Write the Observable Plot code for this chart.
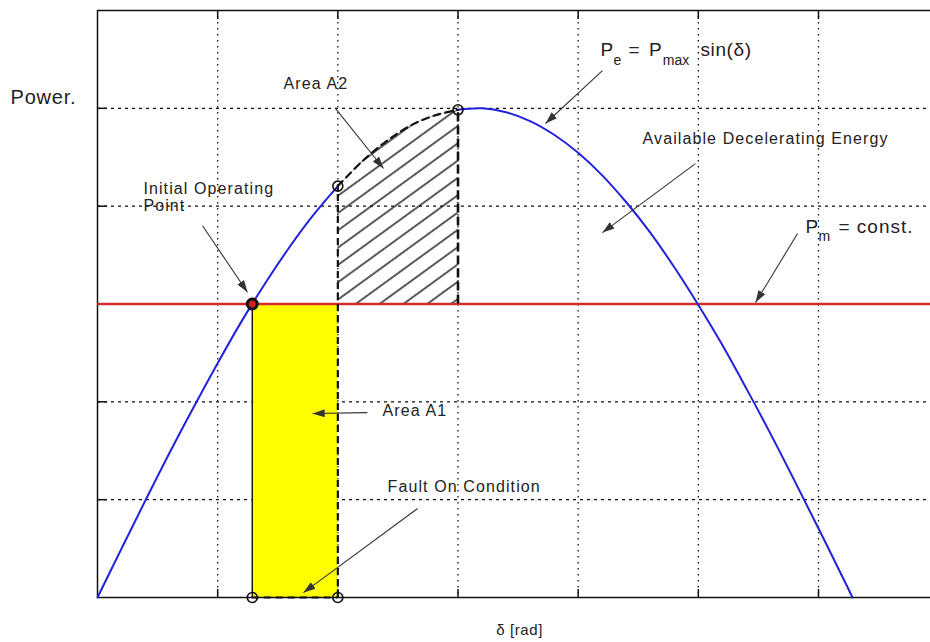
<!DOCTYPE html>
<html>
<head>
<meta charset="utf-8">
<script src="https://cdn.jsdelivr.net/npm/d3@7"></script>
<script src="https://cdn.jsdelivr.net/npm/@observablehq/plot@0.6"></script>
<style>
  html, body { margin: 0; padding: 0; background: #fff; }
  #chart svg { display: block; font-family: "Liberation Sans", Arial, sans-serif; }
</style>
</head>
<body>
<div id="chart"></div>
<script>
// ---- data ----
const delta = [0, 0.1, 0.2, 0.3, 0.4, 0.5, 0.6, 0.7, 0.8, 0.9, 1.0, 1.1, 1.2, 1.3, 1.4, 1.5,
  1.6, 1.7, 1.8, 1.9, 2.0, 2.1, 2.2, 2.3, 2.4, 2.5, 2.6, 2.7, 2.8, 2.9, 3.0, 3.1, 3.1416];
const pe = [0, 0.100, 0.199, 0.296, 0.389, 0.479, 0.565, 0.644, 0.717, 0.783, 0.841, 0.891, 0.932, 0.964, 0.985, 0.997,
  1.000, 0.992, 0.974, 0.946, 0.909, 0.863, 0.808, 0.746, 0.675, 0.598, 0.516, 0.427, 0.335, 0.239, 0.141, 0.042, 0];
const gridX = [0.5, 1.0, 1.5, 2.0, 2.5, 3.0];
const gridY = [0.2, 0.4, 0.6, 0.8, 1.0];
const xDomain = [0, 3.466];
const yDomain = [0, 1.2];
const Pm = 0.6;        // mechanical power
const delta0 = 0.644;  // initial operating point
const deltaC = 1.0;    // clearing angle
const deltaM = 1.5;    // end of A2 hatch

const labels = [
  {t: "Area A2", x: 0.774, y: 1.051},
  {t: "Available Decelerating Energy", x: 2.268, y: 0.938},
  {t: "Initial Operating", x: 0.191, y: 0.836},
  {t: "Point", x: 0.191, y: 0.801},
  {t: "Area A1", x: 1.186, y: 0.382},
  {t: "Fault On Condition", x: 1.207, y: 0.227}
];
const mathBig = [
  {t: "P", x: 2.093, y: 1.108},
  {t: "=", x: 2.209, y: 1.108},
  {t: "P", x: 2.295, y: 1.108},
  {t: "sin(δ)", x: 2.509, y: 1.108},
  {t: "P", x: 2.946, y: 0.746},
  {t: "= const.", x: 3.083, y: 0.746}
];
const mathSub = [
  {t: "e", x: 2.147, y: 1.088},
  {t: "max", x: 2.352, y: 1.088},
  {t: "m", x: 3.000, y: 0.728}
];
const arrows = [
  {x1: 0.990, y1: 1.000, x2: 1.190, y2: 0.877},
  {x1: 2.101, y1: 1.077, x2: 1.864, y2: 0.969},
  {x1: 2.488, y1: 0.887, x2: 2.101, y2: 0.746},
  {x1: 2.913, y1: 0.744, x2: 2.738, y2: 0.603},
  {x1: 0.437, y1: 0.760, x2: 0.624, y2: 0.624},
  {x1: 1.123, y1: 0.378, x2: 0.895, y2: 0.376},
  {x1: 1.332, y1: 0.182, x2: 0.857, y2: 0.010}
];
const yLabel = [{t: "Power.", x: -0.362, y: 1.022}];
const xLabel = [{t: "δ [rad]", x: 1.756, y: -0.0675}];

// ---- derived tables ----
const pts = delta.map((d, i) => ({d, p: pe[i]}));
const seg1 = pts.filter(o => o.d <= deltaC);
const seg2 = pts.filter(o => o.d >= deltaC && o.d <= deltaM);
const seg3 = pts.filter(o => o.d >= deltaM);
const peC = pe[delta.indexOf(deltaC)];
const peM = pe[delta.indexOf(deltaM)];
const curve = "catmull-rom";
const ink = "#222";

const chart = Plot.plot({
  width: 930,
  height: 642,
  marginLeft: 97,
  marginRight: 0,
  marginTop: 10,
  marginBottom: 45,
  x: {domain: xDomain, axis: null},
  y: {domain: yDomain, axis: null},
  style: {background: "#fff", fontFamily: "Liberation Sans, Arial, sans-serif"},
  marks: [
    // grid
    Plot.ruleX(gridX, {stroke: "#111", strokeWidth: 1.3, strokeDasharray: "1.5,4.5"}),
    Plot.ruleY(gridY, {stroke: "#111", strokeWidth: 1.2, strokeDasharray: "3,4"}),
    // Area A1 (yellow)
    Plot.rect([{x1: delta0, x2: deltaC, y1: 0, y2: Pm}], {x1: "x1", x2: "x2", y1: "y1", y2: "y2", fill: "#ffff00"}),
    // Area A2 (hatched)
    Plot.areaY(seg2, {x: "d", y1: () => Pm, y2: "p", fill: "url(#hatch)", curve}),
    // frame (top, bottom, left)
    Plot.ruleY([yDomain[0], yDomain[1]], {stroke: "#111", strokeWidth: 1.5}),
    Plot.ruleX([xDomain[0]], {stroke: "#111", strokeWidth: 1.5}),
    // inward ticks
    Plot.axisX({anchor: "bottom", ticks: gridX, tickSize: 8, dy: -8, tickFormat: () => "", label: null, stroke: "#111", strokeWidth: 1.5}),
    Plot.axisX({anchor: "top", ticks: gridX, tickSize: 8, dy: 8, tickFormat: () => "", label: null, stroke: "#111", strokeWidth: 1.5}),
    Plot.axisY({anchor: "left", ticks: gridY, tickSize: 10, dx: 10, tickFormat: () => "", label: null, stroke: "#111", strokeWidth: 1.5}),
    // Pm line
    Plot.ruleY([Pm], {stroke: "#d42a2a", strokeWidth: 2.6}),
    // power-angle curve
    Plot.line(seg1, {x: "d", y: "p", stroke: "#2222dd", strokeWidth: 2, curve}),
    Plot.line(seg3, {x: "d", y: "p", stroke: "#2222dd", strokeWidth: 2, curve}),
    Plot.line(seg2, {x: "d", y: "p", stroke: "#c8c8e4", strokeWidth: 1, curve}),
    Plot.line(seg2, {x: "d", y: "p", stroke: "#111", strokeWidth: 2.2, strokeDasharray: "7,5", curve}),
    // vertical borders
    Plot.ruleX([{x: delta0, y1: 0, y2: Pm}], {x: "x", y1: "y1", y2: "y2", stroke: "#111", strokeWidth: 1.4}),
    Plot.ruleX([{x: deltaC, y1: 0, y2: peC}], {x: "x", y1: "y1", y2: "y2", stroke: "#111", strokeWidth: 2.2, strokeDasharray: "7,4"}),
    Plot.ruleX([{x: deltaM, y1: Pm, y2: peM}], {x: "x", y1: "y1", y2: "y2", stroke: "#111", strokeWidth: 2.6, strokeDasharray: "9,4"}),
    Plot.ruleY([{y: 0, x1: delta0, x2: deltaC}], {y: "y", x1: "x1", x2: "x2", stroke: "#111", strokeWidth: 2.2, strokeDasharray: "7,5"}),
    // points
    Plot.dot([{x: deltaC, y: peC}, {x: deltaM, y: peM}, {x: delta0, y: 0}, {x: deltaC, y: 0}],
      {x: "x", y: "y", r: 5, stroke: "#111", strokeWidth: 1.6, fill: "none"}),
    Plot.dot([{x: delta0, y: Pm}], {x: "x", y: "y", r: 5, stroke: "#111", strokeWidth: 3, fill: "#c22"}),
    // annotation arrows
    Plot.link(arrows, {x1: "x1", y1: "y1", x2: "x2", y2: "y2", stroke: "#333", strokeWidth: 1.1, markerEnd: "arrow"}),
    // text
    Plot.text(labels, {x: "x", y: "y", text: "t", textAnchor: "start", lineAnchor: "middle", fontSize: 16, fill: ink}),
    Plot.text(mathBig, {x: "x", y: "y", text: "t", textAnchor: "start", lineAnchor: "bottom", fontSize: 19, fill: ink}),
    Plot.text(mathSub, {x: "x", y: "y", text: "t", textAnchor: "start", lineAnchor: "bottom", fontSize: 14, fill: ink}),
    Plot.text(yLabel, {x: "x", y: "y", text: "t", textAnchor: "start", lineAnchor: "middle", fontSize: 20, fill: ink}),
    Plot.text(xLabel, {x: "x", y: "y", text: "t", textAnchor: "middle", lineAnchor: "middle", fontSize: 15, fill: ink})
  ]
});

// hatch pattern for Area A2
const svgNS = "http://www.w3.org/2000/svg";
const defs = document.createElementNS(svgNS, "defs");
defs.innerHTML = '<pattern id="hatch" patternUnits="userSpaceOnUse" width="14" height="14" patternTransform="rotate(-36)">' +
  '<line x1="-2" y1="7" x2="16" y2="7" stroke="#000" stroke-width="1.3"/></pattern>';
chart.insertBefore(defs, chart.firstChild);

// filled arrow heads
chart.querySelectorAll("marker").forEach(m => {
  const c = m.getAttribute("stroke") || "#333";
  m.setAttribute("viewBox", "-10 -4 10 8");
  m.setAttribute("markerWidth", 11);
  m.setAttribute("markerHeight", 8.8);
  m.setAttribute("fill", c);
  m.setAttribute("stroke", "none");
  m.innerHTML = "";
  const p = document.createElementNS(svgNS, "path");
  p.setAttribute("d", "M-10,-3.3L0,0L-10,3.3Z");
  m.appendChild(p);
});

// letter spacing to match the wide lettering of the original
const spacing = new Map([
  ...labels.map(d => [d.t, "1.1px"]),
  ...yLabel.map(d => [d.t, "0.8px"]),
  ...xLabel.map(d => [d.t, "0.6px"]),
  ["= const.", "1px"], ["sin(δ)", "0.6px"]
]);
chart.querySelectorAll("text").forEach(el => {
  const s = spacing.get(el.textContent);
  if (s) el.style.letterSpacing = s;
});

document.getElementById("chart").appendChild(chart);
</script>
</body>
</html>
